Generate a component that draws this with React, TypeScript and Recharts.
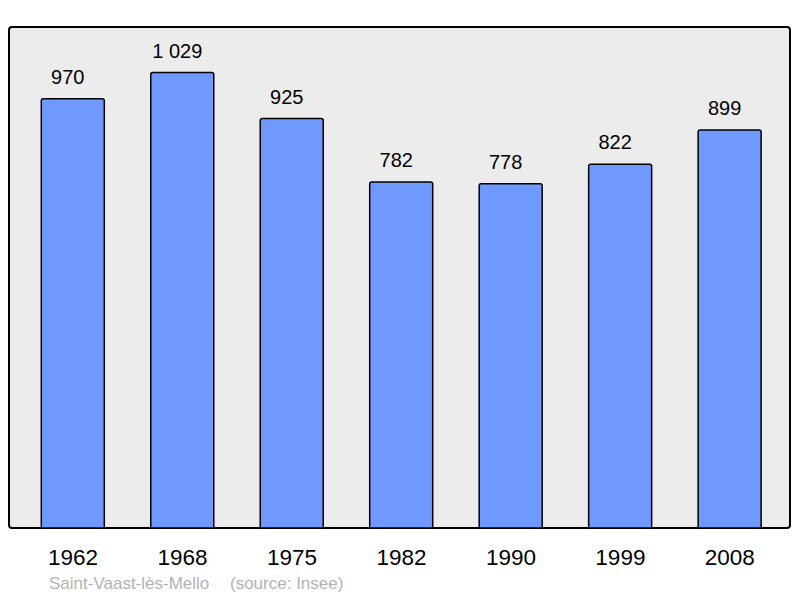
import React from "react";
import { BarChart, Bar, XAxis, YAxis, LabelList } from "recharts";

const years: string[] = ["1962", "1968", "1975", "1982", "1990", "1999", "2008"];
const population: number[] = [970, 1029, 925, 782, 778, 822, 899];
const valueLabels: string[] = ["970", "1 029", "925", "782", "778", "822", "899"];
const commune = "Saint-Vaast-lès-Mello";
const source = "(source: Insee)";

const data = years.map((y, i) => ({ year: y, pop: population[i], label: valueLabels[i] }));

const FONT = "'Liberation Sans', Arial, sans-serif";

const XTick = (props: any) => {
  const { x, y, payload } = props;
  return (
    <text x={x} y={y + 37} textAnchor="middle" fontSize={22.5} fontFamily={FONT} fill="#000">
      {payload.value}
    </text>
  );
};

const ValueLabel = (props: any) => {
  const { x, y, width, index } = props;
  return (
    <text
      x={x + width / 2 - 5}
      y={y - 15}
      textAnchor="middle"
      fontSize={20}
      fontFamily={FONT}
      fill="#000"
    >
      {valueLabels[index]}
    </text>
  );
};

export default function App() {
  return (
    <div style={{ position: "absolute", left: 0, top: 0, width: 800, height: 598, background: "#fff" }}>
      <svg width={800} height={598} style={{ position: "absolute", left: 0, top: 0 }}>
        <rect x={9} y={27} width={781} height={501} rx={3} ry={3} fill="#ececec" stroke="#000" strokeWidth={2} />
        <text x={49} y={589} fontSize={17} fontFamily={FONT} fill="#b3b3b3">
          {commune}
        </text>
        <text x={230} y={589} fontSize={17} fontFamily={FONT} fill="#b3b3b3">
          {source}
        </text>
      </svg>
      <div style={{ position: "absolute", left: 0, top: 0 }}>
        <BarChart
          width={800}
          height={598}
          data={data}
          margin={{ top: 27, right: 15.4, bottom: 30, left: 18.3 }}
        >
          <XAxis
            dataKey="year"
            axisLine={false}
            tickLine={false}
            tickSize={0}
            tickMargin={0}
            height={40}
            tick={<XTick />}
            interval={0}
          />
          <YAxis hide domain={[0, 1132]} allowDataOverflow />
          <Bar
            dataKey="pop"
            fill="#7099ff"
            stroke="#000"
            strokeWidth={1.5}
            barSize={63}
            radius={[2, 2, 0, 0]}
            isAnimationActive={false}
          >
            <LabelList dataKey="label" content={<ValueLabel />} />
          </Bar>
        </BarChart>
      </div>
    </div>
  );
}
